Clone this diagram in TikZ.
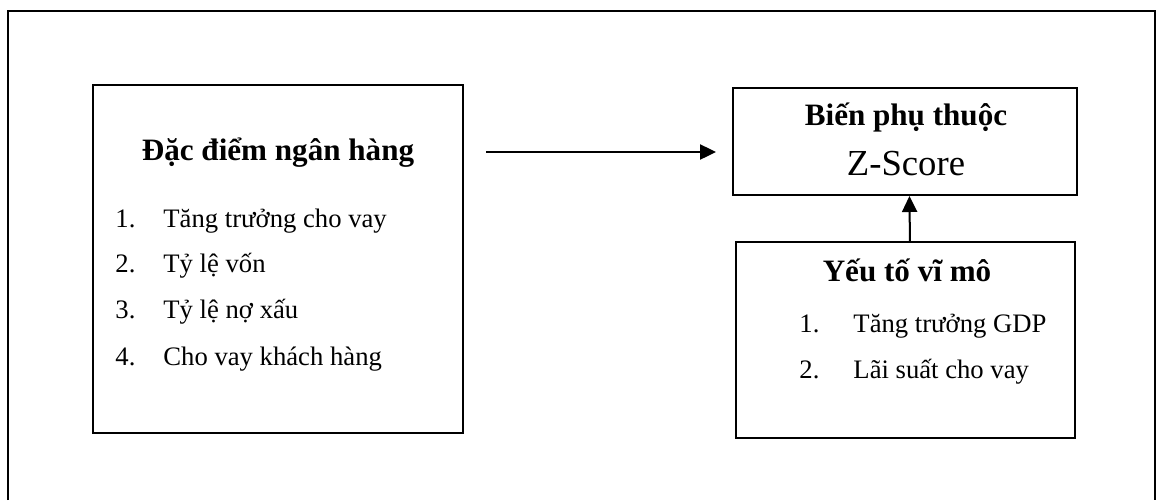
\documentclass[tikz,border=0pt]{standalone}
\usepackage{fontspec}
\setmainfont{Liberation Serif}
\usetikzlibrary{arrows.meta,fit}
\tikzset{
  box/.style={draw, line width=0.9pt, inner sep=0pt},
  frame/.style={draw, line width=0.9pt},
  conn/.style={line width=0.9pt, -{Triangle[length=7.2pt,width=6.8pt]}},
  ttl/.style={anchor=base, inner sep=0pt, font=\fontsize{14}{16}\selectfont\bfseries},
  itm/.style={anchor=base west, inner sep=0pt, font=\fontsize{12}{14}\selectfont},
  sub/.style={anchor=base, inner sep=0pt, font=\fontsize{16.5}{19}\selectfont}
}
\begin{document}
\begin{tikzpicture}[x=0.45pt,y=-0.45pt]
\useasboundingbox (0,0) rectangle (1157,500);
\draw[frame] (8,500) -- (8,11) -- (1155,11) -- (1155,500);
% left box
\node[box, fit={(93,85) (463,433)}] (L) {};
\node[ttl] (Lt) at (278,160) {Đặc điểm ngân hàng};
\node[itm] (L1n) at (115,227) {1.};
\node[itm] (L1) at (163,227) {Tăng trưởng cho vay};
\node[itm] (L2n) at (115,272) {2.};
\node[itm] (L2) at (163,272) {Tỷ lệ vốn};
\node[itm] (L3n) at (115,318) {3.};
\node[itm] (L3) at (163,318) {Tỷ lệ nợ xấu};
\node[itm] (L4n) at (115,365) {4.};
\node[itm] (L4) at (163,365) {Cho vay khách hàng};
% dependent box
\node[box, fit={(733,88) (1077,195)}] (D) {};
\node[ttl] (Dt) at (906,125) {Biến phụ thuộc};
\node[sub] (Dz) at (906,175) {Z-Score};
% macro box
\node[box, fit={(736,242) (1075,438)}] (M) {};
\node[ttl] (Mt) at (907,281) {Yếu tố vĩ mô};
\node[itm] (M1n) at (799,332) {1.};
\node[itm] (M1) at (853,332) {Tăng trưởng GDP};
\node[itm] (M2n) at (799,378) {2.};
\node[itm] (M2) at (853,378) {Lãi suất cho vay};
% arrows
\coordinate (a1) at (486,152);
\coordinate (a2) at (716,152);
\draw[conn] (a1) -- (a2);
\draw[conn] ([xshift=2pt]M.north) -- ([xshift=2pt]D.south);
\end{tikzpicture}
\end{document}
